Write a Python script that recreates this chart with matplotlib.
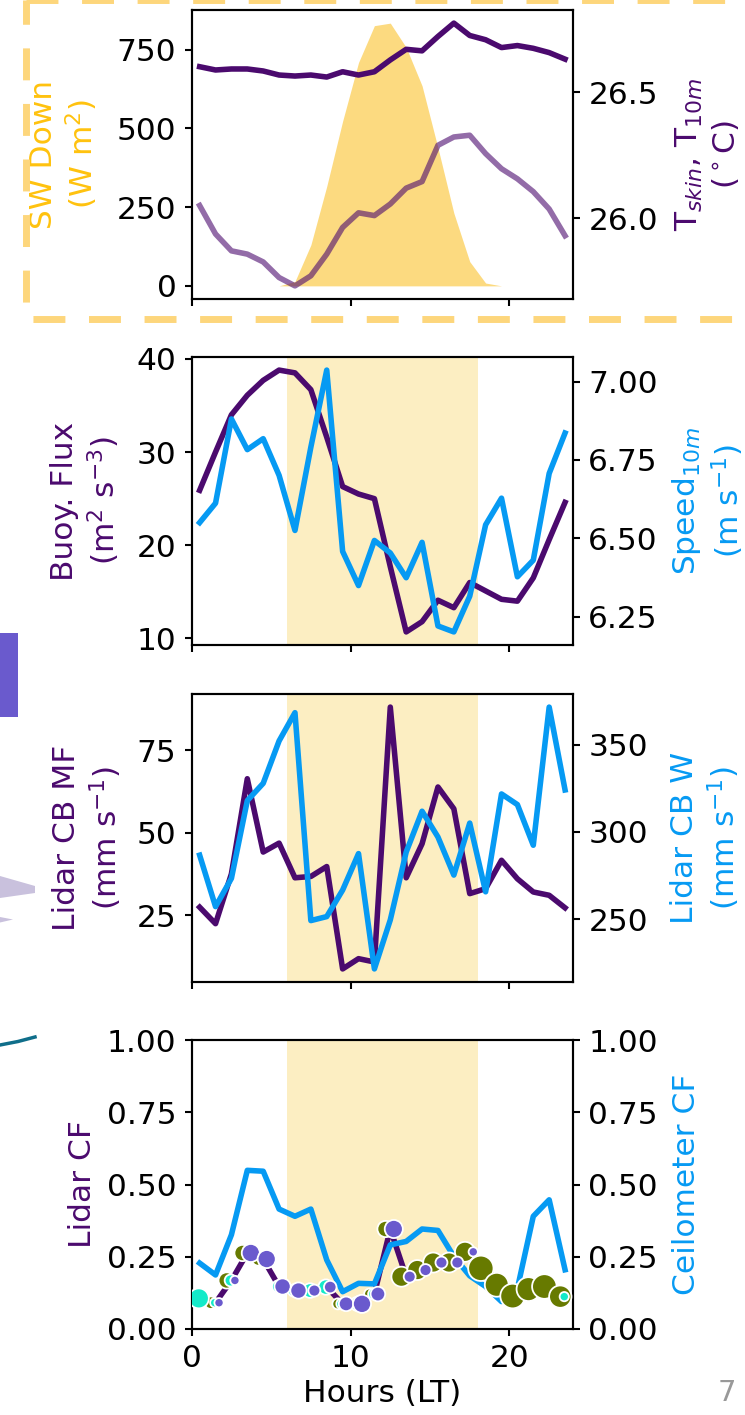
import numpy as np
import matplotlib
matplotlib.use("Agg")
import matplotlib.pyplot as plt
from matplotlib.lines import Line2D
from matplotlib.patches import Polygon, Rectangle

# hourly composites, centred on the half hour (local time)
hours = np.arange(24) + 0.5

sw_down = [0, 0, 0, 0, 0, 0, 14, 130, 316, 523, 709, 826,
           834, 757, 635, 438, 231, 77, 9, 0, 0, 0, 0, 0]
t_10m = [26.602, 26.589, 26.593, 26.593, 26.585, 26.569, 26.565, 26.569,
         26.561, 26.582, 26.569, 26.582, 26.629, 26.671, 26.665, 26.722,
         26.775, 26.726, 26.709, 26.678, 26.686, 26.675, 26.658, 26.632]
t_skin = [26.051, 25.938, 25.871, 25.858, 25.827, 25.765, 25.732, 25.772,
          25.858, 25.964, 26.022, 26.011, 26.057, 26.120, 26.146, 26.290,
          26.323, 26.330, 26.257, 26.197, 26.157, 26.106, 26.037, 25.931]

buoy_flux = [25.9, 30.0, 34.0, 36.1, 37.7, 38.8, 38.5, 36.7, 31.6, 26.3, 25.5, 25.0,
             17.7, 10.7, 11.8, 14.1, 13.3, 16.0, 15.1, 14.2, 14.0, 16.5, 20.6, 24.6]
speed_10m = [6.550, 6.612, 6.881, 6.783, 6.818, 6.701, 6.525, 6.791, 7.037, 6.458,
             6.349, 6.493, 6.453, 6.374, 6.487, 6.220, 6.201, 6.315, 6.543, 6.628,
             6.377, 6.430, 6.707, 6.836]

cb_mf = [27.5, 22.5, 37.6, 66.4, 44.2, 46.9, 36.4, 36.8, 39.8, 8.8, 11.9, 10.9,
         88.1, 36.4, 46.7, 63.9, 57.3, 31.6, 33.1, 41.7, 36.1, 32.1, 31.1, 27.3]
cb_w = [286.7, 257.2, 273.4, 318.0, 327.9, 352.2, 368.4, 249.2, 251.5, 266.7,
        287.6, 221.5, 249.6, 288.5, 311.9, 297.1, 275.3, 305.1, 265.7, 321.8,
        315.7, 292.4, 371.6, 324.1]

lidar_cf = [0.106, 0.091, 0.168, 0.263, 0.242, 0.147, 0.133, 0.133, 0.145, 0.087,
            0.087, 0.121, 0.346, 0.181, 0.204, 0.230, 0.230, 0.267, 0.210, 0.153,
            0.114, 0.138, 0.147, 0.112]
ceil_cf = [0.228, 0.187, 0.326, 0.549, 0.546, 0.415, 0.390, 0.415, 0.239, 0.129,
           0.158, 0.156, 0.291, 0.303, 0.346, 0.341, 0.251, 0.184, 0.147, 0.095,
           0.140, 0.390, 0.447, 0.205]

# relative weight of each cloud class per hour (sets marker area)
wt_olive = [0, 0.22, 0.37, 0.37, 0.25, 0, 0, 0, 0, 0.17, 0, 0.17,
            0.37, 0.56, 0.56, 0.56, 0.56, 0.56, 0.9, 0.8, 0.85, 0.8, 0.85, 0.7]
wt_aqua = [0.56, 0.12, 0.2, 0, 0, 0.22, 0.22, 0.3, 0.33, 0.17, 0.3, 0.17,
           0, 0, 0, 0, 0, 0, 0, 0, 0, 0, 0, 0.12]
wt_slate = [0, 0.12, 0.12, 0.46, 0.46, 0.37, 0.37, 0.2, 0.22, 0.3, 0.46, 0.3,
            0.46, 0.2, 0.2, 0.2, 0.2, 0.12, 0, 0, 0, 0, 0, 0]

PURPLE = '#4B0A6E'
BLUE = '#069AF3'
GOLD_TXT = '#FFC20E'
GOLD_FILL = '#FCDA80'
DAY = '#FCEEC2'
LW = 4

plt.rcParams['font.size'] = 22.5
plt.rcParams['axes.linewidth'] = 1.5
for a in ('xtick', 'ytick'):
    plt.rcParams[a + '.major.width'] = 1.5
    plt.rcParams[a + '.major.size'] = 5
    plt.rcParams[a + '.major.pad'] = 6

W, H = 745, 1415
fig = plt.figure(figsize=(W / 100, H / 100), dpi=100)


def px(x, y):
    return x / W, 1 - y / H


def panel(top, bot):
    l, b = px(191.7, bot)
    return fig.add_axes([l, b, (573 - 191.7) / W, (bot - top) / H])


ax1 = panel(10, 299)
ax2 = panel(357, 645)
ax3 = panel(694, 982)
ax4 = panel(1040, 1329)
axes = [ax1, ax2, ax3, ax4]

for ax in axes:
    ax.set_xlim(0, 24)
    ax.set_xticks([0, 10, 20])
for ax in axes[:3]:
    ax.set_xticklabels([])

# SW down and temperatures
ax1.fill_between(hours, 0, sw_down, color=GOLD_FILL, lw=0)
ax1.set_yticks([0, 250, 500, 750])
ax1.set_ylabel('SW Down\n(W m$^2$)', color=GOLD_TXT)
tw1 = ax1.twinx()
tw1.plot(hours, t_10m, color=PURPLE, lw=LW)
tw1.plot(hours, t_skin, color=PURPLE, lw=LW, alpha=0.6)
tw1.set_yticks([26.0, 26.5])
tw1.set_ylabel('T$_{skin}$, T$_{10m}$\n($^\\circ$C)', color=PURPLE)

# buoyancy flux and wind speed
ax2.axvspan(6, 18, color=DAY, lw=0, zorder=0)
ax2.plot(hours, buoy_flux, color=PURPLE, lw=LW)
ax2.set_yticks([10, 20, 30, 40])
ax2.set_ylabel('Buoy. Flux\n(m$^2$ s$^{-3}$)', color=PURPLE)
tw2 = ax2.twinx()
tw2.plot(hours, speed_10m, color=BLUE, lw=LW)
tw2.set_yticks([6.25, 6.5, 6.75, 7.0])
tw2.set_ylabel('Speed$_{10m}$\n(m s$^{-1}$)', color=BLUE)

# cloud-base mass flux and velocity
ax3.axvspan(6, 18, color=DAY, lw=0, zorder=0)
ax3.plot(hours, cb_mf, color=PURPLE, lw=LW)
ax3.set_yticks([25, 50, 75])
ax3.set_ylabel('Lidar CB MF\n(mm s$^{-1}$)', color=PURPLE)
tw3 = ax3.twinx()
tw3.plot(hours, cb_w, color=BLUE, lw=LW)
tw3.set_yticks([250, 300, 350])
tw3.set_ylabel('Lidar CB W\n(mm s$^{-1}$)', color=BLUE)

# cloud fraction
ax4.axvspan(6, 18, color=DAY, lw=0, zorder=0)
ax4.plot(hours, lidar_cf, color=PURPLE, lw=LW)
ax4.set_ylim(0, 1)
ax4.set_yticks([0, 0.25, 0.5, 0.75, 1.0])
ax4.set_ylabel('Lidar CF', color=PURPLE)
ax4.set_xlabel('Hours (LT)')
tw4 = ax4.twinx()
tw4.plot(hours, ceil_cf, color=BLUE, lw=LW)
for wt, dx, col in [(wt_olive, -0.3, '#677A00'), (wt_aqua, -0.05, '#13EAC9'),
                    (wt_slate, 0.22, '#6A5ACD')]:
    wt = np.array(wt)
    keep = wt > 0
    tw4.scatter(hours[keep] + dx, np.array(lidar_cf)[keep], s=370 * wt[keep],
                color=col, edgecolor='white', linewidth=1.3, zorder=3)
tw4.set_ylim(0, 1)
tw4.set_yticks([0, 0.25, 0.5, 0.75, 1.0])
tw4.set_ylabel('Ceilometer CF', color=BLUE)

# label placement (axes fraction)
for ax, x in [(ax1, -0.24), (ax2, -0.183), (ax3, -0.178), (ax4, -0.248)]:
    ax.yaxis.set_label_coords(x, 0.5)
for ax, x in [(tw1, 1.265), (tw2, 1.255), (tw3, 1.255), (tw4, 1.26)]:
    ax.yaxis.set_label_coords(x, 0.5)

# dashed frame around the top panel
dash = dict(color='#FDD67C', lw=5, solid_capstyle='butt')
fig.add_artist(Line2D([26 / W, 1.02], [1 - 319 / H] * 2, transform=fig.transFigure,
                      linestyle=(7.0, (4.6, 3.4)), **dash))
fig.add_artist(Line2D([26 / W, 1.02], [1.0, 1.0], transform=fig.transFigure,
                      linestyle=(0, (4.6, 3.4)), **dash))
fig.add_artist(Line2D([26 / W, 26 / W], [1 - 319 / H, 1.0], transform=fig.transFigure,
                      linestyle=(5.56, (4.6, 3.4)), **dash))

# edge of the neighbouring panel
l, b = px(0, 717)
fig.add_artist(Rectangle((l, b), 18 / W, 84 / H, transform=fig.transFigure,
                         color='#6A5ACD', lw=0))
fig.add_artist(Polygon([px(0, 876), px(35, 886), px(35, 893), px(0, 898)],
                       transform=fig.transFigure, color='#C9C1DD', lw=0))
fig.add_artist(Polygon([px(0, 917), px(13, 919.5), px(0, 922.5)],
                       transform=fig.transFigure, color='#C9C1DD', lw=0))
tx, ty = zip(px(0, 1045), px(18, 1041.5), px(35, 1037))
fig.add_artist(Line2D(tx, ty, transform=fig.transFigure, color='#0F6E8A', lw=2.5))

fig.text(727 / W, 1 - 1393 / H, '7', color='#999999', fontsize=21,
         ha='center', va='center')

fig.savefig('out.png', dpi=100)
